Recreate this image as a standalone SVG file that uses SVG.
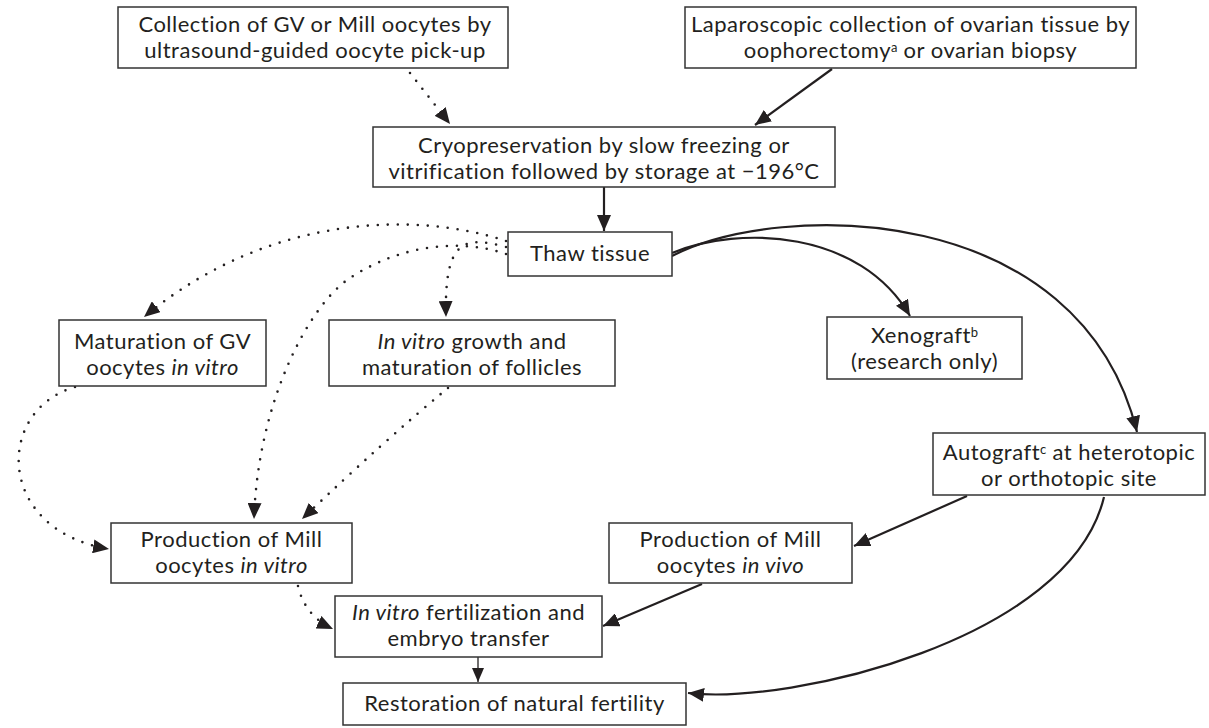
<svg xmlns="http://www.w3.org/2000/svg" width="1209" height="728" viewBox="0 0 1209 728">
<style>
  .box { fill: #ffffff; stroke: #333333; stroke-width: 1.5; }
  .t { font-family: Lato, "Open Sans", "Liberation Sans", sans-serif; font-size: 22px; letter-spacing: 0.5px; fill: #231f20; text-anchor: middle; }
  .i { font-style: italic; }
  .sup { font-size: 13px; letter-spacing: 0; }
  .solid { fill: none; stroke: #231f20; stroke-width: 2.2; }
  .thin { fill: none; stroke: #231f20; stroke-width: 1.3; }
  .dot { fill: none; stroke: #231f20; stroke-width: 2.6; stroke-linecap: round; stroke-dasharray: 0 10; }
</style>
<defs>
  <marker id="ah" markerUnits="userSpaceOnUse" markerWidth="18" markerHeight="14" refX="16" refY="7" orient="auto">
    <path d="M0,0 L16,7 L0,14 z" fill="#231f20"/>
  </marker>
  <marker id="ahs" markerUnits="userSpaceOnUse" markerWidth="16" markerHeight="12" refX="14" refY="6" orient="auto">
    <path d="M0,0 L14,6 L0,12 z" fill="#231f20"/>
  </marker>
</defs>

<g id="connectors">
  <path class="dot" d="M410 73 L450 124" marker-end="url(#ah)"/>
  <path class="solid" d="M832 69 L755 125" marker-end="url(#ah)"/>
  <path class="solid" d="M604 187 L604 231" marker-end="url(#ah)"/>
  <path class="dot" d="M506 241 C420 212 270 212 144 317" marker-end="url(#ah)"/>
  <path class="dot" d="M506 254 C460 238 400 245 350 278 C310 304 258 400 254 519" marker-end="url(#ah)"/>
  <path class="dot" d="M506 247 C465 236 444 238 446 317" marker-end="url(#ah)"/>
  <path class="solid" d="M672 253 C740 225 860 230 910 316" marker-end="url(#ah)"/>
  <path class="solid" d="M672 256 C780 200 1080 200 1137 432" marker-end="url(#ah)"/>
  <path class="dot" d="M75 387 C-5 410 -5 530 109 549" marker-end="url(#ah)"/>
  <path class="dot" d="M448 388 Q385 440 302 519" marker-end="url(#ah)"/>
  <path class="dot" d="M298 586 Q305 616 333 629" marker-end="url(#ah)"/>
  <path class="solid" d="M967 496 L854 546" marker-end="url(#ah)"/>
  <path class="solid" d="M702 584 L603 626" marker-end="url(#ah)"/>
  <path class="thin" d="M478 657 L478 682" marker-end="url(#ahs)"/>
  <path class="solid" d="M1104 497 C1070 640 790 705 688 693" marker-end="url(#ah)"/>
</g>

<g id="n-collection">
  <rect class="box" x="118" y="7" width="390" height="61"/>
  <text class="t" x="315" y="32">Collection of GV or Mill oocytes by</text>
  <text class="t" x="315" y="58">ultrasound-guided oocyte pick-up</text>
</g>
<g id="n-laparoscopic">
  <rect class="box" x="685" y="7" width="451" height="61"/>
  <text class="t" x="910.5" y="32">Laparoscopic collection of ovarian tissue by</text>
  <text class="t" x="910.5" y="58">oophorectomy<tspan class="sup" dy="-6">a</tspan><tspan dy="6"> or ovarian biopsy</tspan></text>
</g>
<g id="n-cryo">
  <rect class="box" x="373" y="127" width="462" height="60"/>
  <text class="t" x="604" y="153">Cryopreservation by slow freezing or</text>
  <text class="t" x="604" y="179">vitrification followed by storage at −196°C</text>
</g>
<g id="n-thaw">
  <rect class="box" x="508" y="232" width="164" height="44"/>
  <text class="t" x="590" y="261">Thaw tissue</text>
</g>
<g id="n-maturation">
  <rect class="box" x="59" y="320" width="207" height="66"/>
  <text class="t" x="162.5" y="349">Maturation of GV</text>
  <text class="t" x="162.5" y="375">oocytes <tspan class="i">in vitro</tspan></text>
</g>
<g id="n-growth">
  <rect class="box" x="329" y="320" width="286" height="66"/>
  <text class="t" x="472" y="349"><tspan class="i">In vitro</tspan> growth and</text>
  <text class="t" x="472" y="375">maturation of follicles</text>
</g>
<g id="n-xenograft">
  <rect class="box" x="827" y="317" width="195" height="62"/>
  <text class="t" x="924.5" y="343">Xenograft<tspan class="sup" dy="-6">b</tspan></text>
  <text class="t" x="924.5" y="369">(research only)</text>
</g>
<g id="n-autograft">
  <rect class="box" x="933" y="433" width="272" height="62"/>
  <text class="t" x="1069" y="460">Autograft<tspan class="sup" dy="-6">c</tspan><tspan dy="6"> at heterotopic</tspan></text>
  <text class="t" x="1069" y="486">or orthotopic site</text>
</g>
<g id="n-prod-vitro">
  <rect class="box" x="111" y="523" width="241" height="60"/>
  <text class="t" x="231.5" y="547">Production of Mill</text>
  <text class="t" x="231.5" y="573">oocytes <tspan class="i">in vitro</tspan></text>
</g>
<g id="n-prod-vivo">
  <rect class="box" x="609" y="523" width="243" height="60"/>
  <text class="t" x="730.5" y="547">Production of Mill</text>
  <text class="t" x="730.5" y="573">oocytes <tspan class="i">in vivo</tspan></text>
</g>
<g id="n-ivf">
  <rect class="box" x="335" y="596" width="267" height="61"/>
  <text class="t" x="468.5" y="620"><tspan class="i">In vitro</tspan> fertilization and</text>
  <text class="t" x="468.5" y="646">embryo transfer</text>
</g>
<g id="n-restoration">
  <rect class="box" x="343" y="683" width="343" height="42"/>
  <text class="t" x="514.5" y="711">Restoration of natural fertility</text>
</g>
</svg>
